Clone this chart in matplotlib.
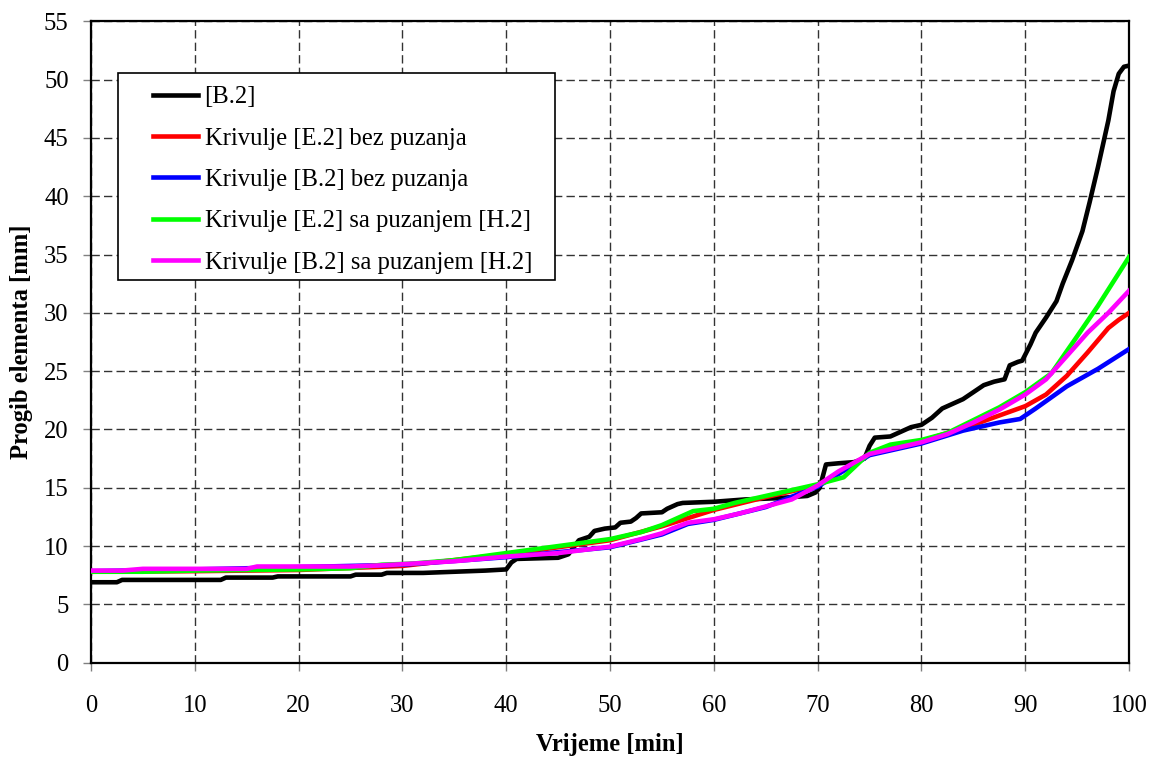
import matplotlib.pyplot as plt
import matplotlib
from matplotlib.patches import Rectangle

matplotlib.rcParams['font.family'] = ['Liberation Serif', 'DejaVu Serif']

# [B.2] - mjerenje
x_b2 = [0, 2.5, 3, 12.5, 13, 17.5, 18, 25, 25.5, 28, 28.5, 32, 35, 38, 40, 40.5,
        41, 45, 46, 47, 48, 48.5, 49.5, 50.5, 51, 52, 52.5, 53, 55, 55.5, 56.5, 57,
        60, 63, 66, 69, 69.8, 70.2, 70.8, 72, 73.5, 74.5, 75, 75.5, 77, 78, 79, 80,
        81, 82, 83, 84, 85, 86, 87, 88, 88.5, 89.3, 89.7, 90.5, 91, 92, 93, 93.6,
        94.5, 95.5, 96.2, 97, 97.5, 98, 98.5, 99, 99.5, 100]
y_b2 = [6.9, 6.9, 7.1, 7.1, 7.3, 7.3, 7.4, 7.4, 7.55, 7.55, 7.7, 7.7, 7.8, 7.9, 8.0, 8.6,
        8.9, 9.0, 9.3, 10.5, 10.8, 11.3, 11.5, 11.6, 12.0, 12.1, 12.4, 12.8, 12.9, 13.2, 13.6, 13.7,
        13.8, 14.0, 14.1, 14.3, 14.6, 15.0, 17.0, 17.1, 17.2, 17.5, 18.6, 19.3, 19.4, 19.8, 20.2, 20.4,
        21.0, 21.8, 22.2, 22.6, 23.2, 23.8, 24.1, 24.3, 25.5, 25.8, 25.9, 27.3, 28.3, 29.6, 31.0, 32.5,
        34.5, 37.0, 39.5, 42.5, 44.5, 46.5, 49.0, 50.5, 51.1, 51.2]

# Krivulje [E.2] bez puzanja
x_e2 = [0, 10, 20, 30, 40, 50, 55, 60, 65, 70, 75, 80, 85, 87.5, 90, 92, 94, 96, 98, 99, 100]
y_e2 = [7.8, 7.85, 7.95, 8.3, 9.3, 10.5, 11.7, 13.1, 14.2, 15.2, 17.9, 19.0, 20.4, 21.2, 22.0,
        23.0, 24.6, 26.6, 28.7, 29.4, 30.0]

# Krivulje [B.2] bez puzanja
x_b2n = [0, 10, 20, 30, 40, 50, 55, 57.5, 60, 65, 70, 75, 80, 84, 87.5, 89.5, 91, 94, 97, 100]
y_b2n = [7.85, 8.0, 8.2, 8.4, 9.05, 9.9, 11.0, 11.9, 12.25, 13.35, 15.1, 17.8, 18.8, 19.9,
         20.6, 20.9, 21.8, 23.7, 25.2, 26.9]

# Krivulje [E.2] sa puzanjem [H.2]
x_e2c = [0, 5, 10, 20, 25, 28, 31, 35, 40, 45, 50, 53, 55, 58, 60, 62, 65, 68, 70, 72.5,
         75, 77, 80, 82.5, 85, 87.5, 90, 92.5, 95, 97, 98.5, 100]
y_e2c = [7.8, 7.8, 7.9, 8.0, 8.1, 8.4, 8.5, 8.8, 9.4, 10.0, 10.6, 11.2, 11.8, 13.0, 13.2, 13.7,
         14.3, 14.9, 15.3, 15.9, 18.0, 18.7, 19.1, 19.7, 20.8, 21.9, 23.2, 24.8, 28.0, 30.6, 32.7, 34.8]

# Krivulje [B.2] sa puzanjem [H.2]
x_b2c = [0, 3, 5, 15, 16, 25, 28, 35, 40, 45, 50, 53, 55, 56, 57.5, 60, 62.5, 65, 67.5, 70,
         72, 75, 77, 80, 82.5, 85, 87.5, 90, 92, 94, 96, 98, 100]
y_b2c = [7.9, 7.9, 8.05, 8.05, 8.25, 8.25, 8.35, 8.7, 9.1, 9.4, 9.95, 10.6, 11.1, 11.5, 12.0,
         12.3, 12.8, 13.4, 14.0, 15.2, 16.4, 17.9, 18.3, 18.9, 19.6, 20.6, 21.7, 23.0, 24.3,
         26.3, 28.3, 30.0, 31.9]

fig = plt.figure(figsize=(11.51, 7.60), dpi=100)
ax = fig.add_axes([0.079, 0.128, 0.902, 0.844])

lw = 3.3
ax.plot(x_b2, y_b2, color='black', lw=lw, label='[B.2]', zorder=3)
ax.plot(x_e2, y_e2, color='#ff0000', lw=lw, label='Krivulje [E.2] bez puzanja', zorder=3)
ax.plot(x_b2n, y_b2n, color='#0000ff', lw=lw, label='Krivulje [B.2] bez puzanja', zorder=3)
ax.plot(x_e2c, y_e2c, color='#00ff00', lw=lw, label='Krivulje [E.2] sa puzanjem [H.2]', zorder=3)
ax.plot(x_b2c, y_b2c, color='#ff00ff', lw=lw, label='Krivulje [B.2] sa puzanjem [H.2]', zorder=3)

fs = 17.7
ax.set_xlim(0, 100)
ax.set_ylim(0, 55)
ax.set_xticks(range(0, 101, 10))
ax.set_yticks(range(0, 56, 5))
ax.grid(True, color='#333333', lw=1, linestyle=(0, (6, 3)), zorder=1)
for s in ax.spines.values():
    s.set_linewidth(1.6)
ax.tick_params(axis='both', direction='out', length=6, width=1, color='gray', labelsize=fs)
ax.tick_params(axis='x', pad=17)
ax.tick_params(axis='y', pad=10)

ax.set_xlabel('Vrijeme [min]', fontsize=fs, fontweight='bold', labelpad=12)
ax.set_ylabel('Progib elementa [mm]', fontsize=fs, fontweight='bold', labelpad=8)

# okvir legende
ax.add_patch(Rectangle((0.026, 0.597), 0.421, 0.322, transform=ax.transAxes,
                       facecolor='white', edgecolor='black', lw=1.2, zorder=4))
leg = ax.legend(loc='upper left', bbox_to_anchor=(0.0597, 0.899), borderaxespad=0,
                borderpad=0, frameon=False, fontsize=fs, handlelength=1.85,
                handletextpad=0.25, labelspacing=0.78)
leg.set_zorder(5)

plt.savefig('out.png', dpi=100)
plt.close()
